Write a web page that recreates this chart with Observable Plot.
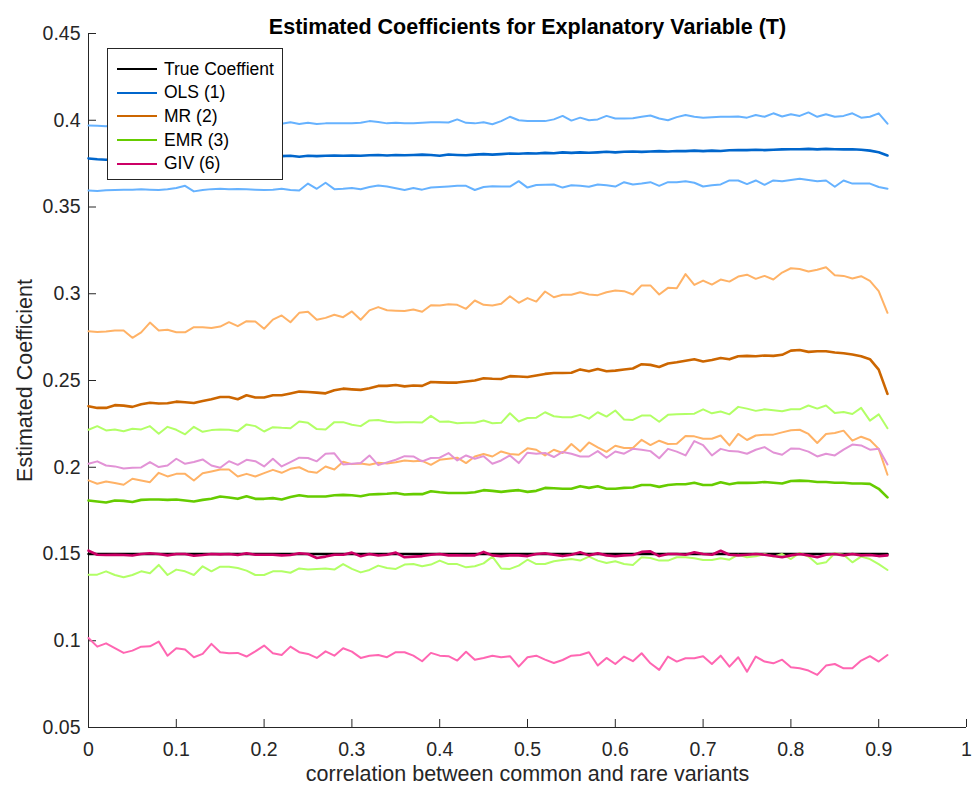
<!DOCTYPE html>
<html>
<head>
<meta charset="utf-8">
<script src="https://cdn.jsdelivr.net/npm/d3@7"></script>
<script src="https://cdn.jsdelivr.net/npm/@observablehq/plot@0.6"></script>
<style>
  html, body { margin: 0; padding: 0; background: #fff; }
  #wrap { position: relative; width: 974px; height: 790px; font-family: "Liberation Sans", Arial, sans-serif; }
  #legend { position: absolute; left: 107px; top: 48px; width: 174px; height: 130px; background: #fff; border: 1px solid #262626; }
  .entry { position: absolute; left: 9px; height: 22px; display: flex; align-items: center; font-size: 17.5px; color: #000; }
  .swatch { width: 40px; height: 0; border-top: 2.5px solid; margin-right: 7px; }
</style>
</head>
<body>
<div id="wrap"><div id="chart"></div><div id="legend"></div></div>
<script>
// ---------- data ----------
const title = "Estimated Coefficients for Explanatory Variable (T)";
const xLabel = "correlation between common and rare variants";
const yLabel = "Estimated Coefficient";
const xTicks = [0, 0.1, 0.2, 0.3, 0.4, 0.5, 0.6, 0.7, 0.8, 0.9, 1];
const yTicks = [0.05, 0.1, 0.15, 0.2, 0.25, 0.3, 0.35, 0.4, 0.45];
const seriesNames = ["True Coeffient", "OLS (1)", "MR (2)", "EMR (3)", "GIV (6)"];

// correlation grid 0 .. 0.91 step 0.01
const corr = d3.range(92).map(i => i / 100);

const trueX = [0, 0.91];
const trueCoef = [0.15, 0.15];

const olsMean = [0.378,0.3775,0.3772,0.3775,0.378,0.3778,0.378,0.3782,0.378,0.3783,
0.3785,0.3783,0.3786,0.3788,0.3785,0.3788,0.379,0.3788,0.379,0.3792,
0.3788,0.379,0.3793,0.3795,0.379,0.3795,0.3793,0.3795,0.3797,0.3795,
0.3797,0.3795,0.3798,0.38,0.3797,0.38,0.3798,0.38,0.3802,0.38,
0.3795,0.3803,0.38,0.3798,0.3802,0.3805,0.3802,0.3805,0.3808,0.3807,
0.381,0.3808,0.3812,0.381,0.3815,0.3812,0.3815,0.3813,0.3815,0.3818,
0.3815,0.3818,0.382,0.3818,0.382,0.3822,0.382,0.3823,0.3822,0.3825,
0.3822,0.3825,0.3823,0.3827,0.3828,0.3828,0.383,0.3828,0.383,0.3832,
0.3833,0.3833,0.3835,0.3832,0.3835,0.3833,0.3832,0.3833,0.383,0.3825,
0.3815,0.3797];

const olsUpper = [0.397,0.3968,0.3965,0.3972,0.397,0.3975,0.3968,0.3972,0.3978,0.3975,
0.397,0.3975,0.3978,0.3972,0.3976,0.398,0.3975,0.3978,0.3972,0.3977,
0.398,0.3975,0.398,0.3988,0.3978,0.3985,0.3978,0.3982,0.3982,0.3983,
0.3982,0.3985,0.3995,0.399,0.3982,0.3985,0.3982,0.3982,0.3985,0.3988,
0.3988,0.3987,0.4005,0.3985,0.3982,0.3988,0.3977,0.3995,0.402,0.4,
0.3995,0.3995,0.3995,0.4005,0.4025,0.3998,0.4015,0.4,0.4005,0.4025,
0.401,0.401,0.4012,0.402,0.4027,0.401,0.4,0.4018,0.403,0.402,
0.4015,0.4018,0.402,0.402,0.4022,0.4015,0.403,0.402,0.404,0.4022,
0.4035,0.4025,0.4045,0.402,0.4035,0.402,0.4025,0.404,0.4015,0.402,
0.404,0.398];

const olsLower = [0.3595,0.3592,0.3596,0.3598,0.36,0.36,0.3602,0.36,0.3598,0.3602,
0.361,0.3622,0.359,0.3598,0.3603,0.3605,0.3602,0.3604,0.3603,0.36,
0.3598,0.36,0.3605,0.3598,0.3595,0.3635,0.3605,0.364,0.3603,0.3605,
0.361,0.3602,0.3615,0.3624,0.3618,0.3608,0.3598,0.361,0.36,0.3612,
0.3615,0.3618,0.3622,0.3622,0.3598,0.3615,0.362,0.3618,0.3618,0.3649,
0.3612,0.3627,0.3628,0.363,0.3612,0.3625,0.3622,0.3617,0.363,0.3625,
0.3618,0.3643,0.363,0.3635,0.3643,0.3622,0.3643,0.3643,0.3648,0.364,
0.3618,0.3625,0.363,0.3653,0.3653,0.3632,0.3653,0.3628,0.3653,0.3648,
0.3655,0.3663,0.3655,0.3648,0.3653,0.3617,0.3653,0.3635,0.3635,0.3635,
0.3615,0.3605];

const mrMean = [0.2352,0.2342,0.2342,0.2358,0.2355,0.2348,0.2363,0.2372,0.2367,0.2369,
0.2378,0.2375,0.237,0.2382,0.2392,0.2405,0.2405,0.2392,0.2415,0.2402,
0.2402,0.2415,0.2415,0.2425,0.2436,0.2434,0.243,0.2426,0.2444,0.2453,
0.2449,0.2446,0.2455,0.2469,0.2469,0.2474,0.2466,0.2471,0.2469,0.2491,
0.2489,0.2488,0.2488,0.2494,0.25,0.2513,0.251,0.2509,0.2525,0.2523,
0.252,0.2529,0.2538,0.2543,0.2543,0.2545,0.2564,0.2553,0.2566,0.2553,
0.2557,0.2563,0.2569,0.2594,0.259,0.2578,0.2598,0.2605,0.2614,0.2622,
0.261,0.2618,0.263,0.2622,0.264,0.2642,0.264,0.2644,0.2642,0.2648,
0.2672,0.2676,0.2665,0.2669,0.2669,0.2661,0.2657,0.265,0.264,0.2623,
0.2563,0.2423];

const mrUpper = [0.2784,0.278,0.2782,0.2788,0.2788,0.2746,0.2777,0.2834,0.2788,0.2792,
0.2778,0.2778,0.2807,0.2807,0.2802,0.2811,0.2836,0.2813,0.2842,0.284,
0.2798,0.2851,0.2875,0.2836,0.289,0.2896,0.285,0.2861,0.2879,0.2865,
0.2898,0.285,0.2904,0.2923,0.2905,0.2902,0.29,0.2909,0.2896,0.2934,
0.2932,0.294,0.2936,0.2913,0.2961,0.2936,0.2932,0.2942,0.2986,0.2948,
0.2975,0.2955,0.3013,0.298,0.2994,0.2994,0.3009,0.2996,0.2992,0.3009,
0.3019,0.3015,0.2996,0.3048,0.3048,0.2996,0.3034,0.3032,0.3113,0.3051,
0.3076,0.3053,0.3082,0.307,0.3099,0.311,0.3086,0.3103,0.3082,0.3122,
0.3147,0.3143,0.3128,0.3138,0.3153,0.3107,0.3103,0.3088,0.3101,0.3074,
0.3015,0.289];

const mrLower = [0.1924,0.1905,0.1918,0.1909,0.1899,0.1934,0.1924,0.1914,0.1968,0.1947,
0.1962,0.1962,0.1924,0.1966,0.1976,0.1987,0.1987,0.1947,0.1962,0.1947,
0.1966,0.1985,0.1968,0.1991,0.2,0.1976,0.1968,0.2004,0.1987,0.2032,
0.2018,0.2022,0.2014,0.2026,0.2022,0.2029,0.2039,0.2035,0.2037,0.2014,
0.2043,0.2049,0.2055,0.2024,0.2062,0.2076,0.2062,0.2091,0.2076,0.2072,
0.2109,0.2101,0.2068,0.2101,0.2082,0.2134,0.2091,0.2143,0.2114,0.2089,
0.2124,0.2111,0.2111,0.2158,0.2128,0.2153,0.2134,0.2135,0.218,0.2178,
0.2164,0.2164,0.2183,0.2126,0.2192,0.2157,0.2183,0.2188,0.2188,0.2201,
0.2213,0.2216,0.2192,0.214,0.2192,0.2197,0.2211,0.2153,0.2176,0.2157,
0.2106,0.1957];

const emrMean = [0.1808,0.1803,0.1797,0.1808,0.1806,0.18,0.1812,0.1814,0.1814,0.1812,
0.1814,0.1808,0.1803,0.1812,0.1818,0.1831,0.1826,0.1818,0.1833,0.1818,
0.1818,0.1822,0.1814,0.1828,0.1839,0.1831,0.1831,0.1831,0.1839,0.1841,
0.1839,0.1833,0.1843,0.1845,0.1847,0.1852,0.1843,0.1845,0.1845,0.1862,
0.1856,0.1852,0.1852,0.1852,0.1856,0.1868,0.1864,0.1858,0.1864,0.1868,
0.1858,0.1864,0.1881,0.1879,0.1876,0.1876,0.1891,0.1881,0.189,0.1876,
0.1876,0.1881,0.1883,0.1898,0.1898,0.1887,0.1898,0.1902,0.1902,0.1911,
0.1898,0.1898,0.1913,0.1902,0.1911,0.191,0.1911,0.1915,0.1911,0.1906,
0.1921,0.1923,0.1921,0.1915,0.1915,0.1911,0.1911,0.1906,0.1906,0.1904,
0.1876,0.1826];

const emrUpper = [0.2216,0.2237,0.2212,0.2218,0.2208,0.2222,0.2218,0.2237,0.2193,0.2233,
0.2216,0.219,0.2233,0.2204,0.2214,0.2218,0.2216,0.2208,0.2247,0.2237,
0.2206,0.2231,0.2227,0.2225,0.2264,0.2256,0.222,0.2218,0.226,0.226,
0.2245,0.2237,0.227,0.2272,0.2262,0.2258,0.226,0.226,0.2258,0.2296,
0.2262,0.2264,0.2254,0.2256,0.2256,0.2269,0.2254,0.2256,0.2311,0.2264,
0.2284,0.2286,0.2317,0.2294,0.2288,0.2288,0.2302,0.228,0.2317,0.2292,
0.2327,0.2275,0.2273,0.2298,0.2298,0.2262,0.2302,0.2305,0.2307,0.2309,
0.2334,0.2311,0.2321,0.2305,0.2348,0.2338,0.2325,0.2334,0.2329,0.2323,
0.2334,0.2334,0.2356,0.2338,0.2356,0.2313,0.2319,0.2307,0.2342,0.2269,
0.2305,0.2225];

const emrLower = [0.1381,0.1381,0.14,0.1379,0.1366,0.1379,0.14,0.1389,0.1437,0.1379,
0.141,0.14,0.1379,0.1429,0.14,0.1427,0.1427,0.1419,0.1404,0.1379,
0.1379,0.14,0.14,0.1392,0.1417,0.141,0.1414,0.1417,0.141,0.1442,
0.1414,0.1394,0.1408,0.1433,0.1419,0.1414,0.1439,0.1442,0.1429,0.1439,
0.1462,0.1442,0.1442,0.1423,0.1429,0.1446,0.1485,0.1417,0.1414,0.1433,
0.1467,0.1442,0.1442,0.1458,0.1465,0.1471,0.1462,0.1485,0.1462,0.1448,
0.1458,0.1442,0.1437,0.1481,0.1477,0.1462,0.1462,0.1481,0.1481,0.1475,
0.1465,0.1465,0.1475,0.1467,0.1496,0.1481,0.1487,0.15,0.1485,0.15,
0.1471,0.1506,0.1485,0.1442,0.1452,0.1504,0.1496,0.1452,0.1485,0.1471,
0.1442,0.1408];

const givMean = [0.1519,0.1496,0.1494,0.1496,0.1494,0.1491,0.15,0.1504,0.15,0.1492,
0.15,0.15,0.149,0.1494,0.15,0.1498,0.15,0.1494,0.1504,0.1496,
0.1496,0.1496,0.1492,0.1494,0.1504,0.15,0.1477,0.1485,0.1496,0.1496,
0.1508,0.1487,0.15,0.1491,0.1496,0.1508,0.1481,0.1485,0.1488,0.1496,
0.15,0.1492,0.1492,0.1491,0.1492,0.1512,0.1492,0.1488,0.1492,0.1492,
0.1488,0.15,0.1504,0.1496,0.1488,0.1496,0.151,0.1492,0.1504,0.1492,
0.1487,0.1492,0.1494,0.1512,0.1515,0.1488,0.15,0.15,0.1496,0.151,
0.15,0.1496,0.1519,0.1496,0.1492,0.1496,0.15,0.1496,0.1488,0.1481,
0.1492,0.15,0.1492,0.1481,0.1496,0.15,0.1492,0.15,0.1492,0.1494,
0.1488,0.1492];

const givUpper = [0.202,0.2034,0.201,0.2005,0.1993,0.1997,0.1999,0.203,0.2001,0.201,
0.2049,0.202,0.203,0.2045,0.201,0.1997,0.2035,0.2014,0.2043,0.2035,
0.2005,0.2049,0.2005,0.203,0.2055,0.2053,0.2034,0.2078,0.208,0.2016,
0.202,0.2024,0.2068,0.2012,0.2028,0.2043,0.2064,0.2062,0.2034,0.2053,
0.2055,0.2082,0.2039,0.2068,0.2049,0.2064,0.202,0.2039,0.2068,0.2024,
0.2084,0.2078,0.2082,0.2059,0.2088,0.2078,0.2062,0.2062,0.2093,0.2055,
0.2091,0.2078,0.2106,0.2101,0.2093,0.2052,0.2106,0.209,0.2068,0.2151,
0.2128,0.2068,0.2106,0.2093,0.2091,0.2078,0.2101,0.2116,0.2085,0.2072,
0.2108,0.2106,0.209,0.2062,0.2078,0.2068,0.2102,0.2131,0.2126,0.2101,
0.2106,0.2016];

const givLower = [0.1016,0.0966,0.0985,0.0957,0.093,0.0943,0.0966,0.0968,0.0995,0.0914,
0.0957,0.0949,0.0905,0.0924,0.0982,0.0934,0.0928,0.093,0.0909,0.0939,
0.0972,0.0928,0.0918,0.0966,0.0934,0.0924,0.0901,0.0939,0.0914,0.0957,
0.0937,0.0901,0.0914,0.0918,0.0905,0.0934,0.0934,0.0914,0.0882,0.093,
0.0914,0.0911,0.0886,0.0937,0.0891,0.0901,0.0914,0.0905,0.0911,0.0851,
0.0905,0.0914,0.0891,0.0872,0.0889,0.0914,0.0918,0.0934,0.0857,0.0901,
0.0866,0.0909,0.0882,0.0928,0.087,0.0832,0.0909,0.088,0.0899,0.0899,
0.0911,0.0866,0.0914,0.0851,0.0905,0.0822,0.0909,0.088,0.087,0.0891,
0.0847,0.0841,0.0828,0.0803,0.0857,0.0866,0.0841,0.0841,0.0886,0.0911,
0.088,0.0918];

// ---------- styles ----------
const C = {
  trueC: "#000000",
  ols: "#0066CC", olsCI: "#66B2FF",
  mr: "#CC6600", mrCI: "#FFB266",
  emr: "#66CC00", emrCI: "#B2FF66",
  giv: "#CC0066", givUp: "#E293D6", givLo: "#FF66B2"
};
const ink = "#262626";
const font = "'Liberation Sans', Arial, Helvetica, sans-serif";

const pts = arr => arr.map((v, i) => ({x: corr[i], y: v}));
const line = (arr, stroke, w) => Plot.line(pts(arr), {x: "x", y: "y", stroke, strokeWidth: w, strokeLinejoin: "round"});

const chart = Plot.plot({
  width: 974,
  height: 790,
  marginLeft: 88,
  marginRight: 8,
  marginTop: 33,
  marginBottom: 63,
  style: {fontFamily: font, background: "#fff", color: ink},
  x: {domain: [0, 1]},
  y: {domain: [0.05, 0.45]},
  marks: [
    Plot.ruleX([0], {stroke: ink, strokeWidth: 1}),
    Plot.ruleY([0.05], {stroke: ink, strokeWidth: 1}),
    Plot.axisX(xTicks, {tickSize: -8, tickPadding: 23, fontSize: 19.5, stroke: ink, fill: ink, tickFormat: d => String(d), label: null}),
    Plot.axisY(yTicks, {tickSize: -8, tickPadding: 16, fontSize: 19.5, stroke: ink, fill: ink, tickFormat: d => String(d), label: null}),
    Plot.line(trueX.map((v, i) => ({x: v, y: trueCoef[i]})), {x: "x", y: "y", stroke: C.trueC, strokeWidth: 2.5}),
    line(olsUpper, C.olsCI, 2),
    line(olsLower, C.olsCI, 2),
    line(olsMean, C.ols, 2.6),
    line(mrUpper, C.mrCI, 2),
    line(mrLower, C.mrCI, 2),
    line(mrMean, C.mr, 2.6),
    line(emrUpper, C.emrCI, 2),
    line(emrLower, C.emrCI, 2),
    line(emrMean, C.emr, 2.6),
    line(givUpper, C.givUp, 2),
    line(givLower, C.givLo, 2),
    line(givMean, C.giv, 2.6),
    Plot.text([xLabel], {frameAnchor: "bottom", dy: 53, fontSize: 21.5, fill: ink}),
    Plot.text([yLabel], {frameAnchor: "left", dx: -63, rotate: -90, textAnchor: "middle", fontSize: 21.5, fill: ink}),
    Plot.text([title], {frameAnchor: "top", dy: -15, fontSize: 21.5, fontWeight: "bold", fill: "#000"})
  ]
});
document.getElementById("chart").appendChild(chart);

// legend
const legendColors = [C.trueC, C.ols, C.mr, C.emr, C.giv];
const leg = document.getElementById("legend");
seriesNames.forEach((name, i) => {
  const e = document.createElement("div");
  e.className = "entry";
  e.style.top = (9 + i * 23.7) + "px";
  const s = document.createElement("div");
  s.className = "swatch";
  s.style.borderTopColor = legendColors[i];
  const t = document.createElement("span");
  t.textContent = name;
  e.appendChild(s); e.appendChild(t);
  leg.appendChild(e);
});
</script>
</body>
</html>
